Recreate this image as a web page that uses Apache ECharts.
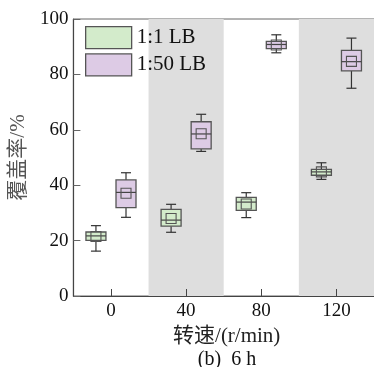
<!DOCTYPE html>
<html>
<head>
<meta charset="utf-8">
<script src="https://cdn.jsdelivr.net/npm/echarts@6/dist/echarts.min.js"></script>
<style>html,body{margin:0;padding:0;background:#fff;}#c{width:374px;height:367px;}</style>
</head>
<body>
<div id="c"></div>
<script>
const categories = ['0', '40', '80', '120'];
const yTicks = [0, 20, 40, 60, 80, 100];
const seriesNames = ['1:1 LB', '1:50 LB'];
// each row: [min, Q1, median, Q3, max, mean]
const lb1 = [
  [16.2, 20.1, 21.7, 23.1, 25.4, 21.5],
  [23.0, 25.2, 27.4, 31.3, 33.1, 28.0],
  [28.3, 30.9, 33.9, 35.6, 37.3, 33.2],
  [42.1, 43.6, 44.8, 45.7, 48.1, 44.8]
];
const lb50 = [
  [28.4, 31.9, 37.4, 41.9, 44.5, 37.1],
  [52.2, 53.1, 58.5, 62.9, 65.6, 58.6],
  [87.8, 89.3, 90.8, 91.9, 94.3, 90.6],
  [75.0, 81.3, 84.6, 88.7, 93.1, 84.7]
];
const caption = '(b)  6 h';
const xName = '转速/(r/min)';
const yName = '覆盖率/%';

const greenFill = '#d3ebcb';
const purpleFill = '#ddcbe5';
const edge = '#555555';
const serif = '"Liberation Serif", "Times New Roman", "Noto Sans CJK SC", serif';

function boxRenderer(sign, fill) {
  return function (params, api) {
    const idx = api.value(0);
    const band = api.size([1, 0])[0];
    const cx = api.coord([idx, 0])[0] + sign * band * 0.2;
    const y = v => api.coord([idx, v])[1];
    const yMin = y(api.value(1)), yQ1 = y(api.value(2)), yMed = y(api.value(3)),
          yQ3 = y(api.value(4)), yMax = y(api.value(5)), yMean = y(api.value(6));
    const hw = 10, cw = 5, sq = 5;
    const ls = { stroke: '#333', lineWidth: 1.2 };
    return {
      type: 'group',
      children: [
        { type: 'line', shape: { x1: cx, y1: yMax, x2: cx, y2: yQ3 }, style: ls },
        { type: 'line', shape: { x1: cx, y1: yQ1, x2: cx, y2: yMin }, style: ls },
        { type: 'line', shape: { x1: cx - cw, y1: yMax, x2: cx + cw, y2: yMax }, style: ls },
        { type: 'line', shape: { x1: cx - cw, y1: yMin, x2: cx + cw, y2: yMin }, style: ls },
        { type: 'rect', shape: { x: cx - hw, y: yQ3, width: 2 * hw, height: yQ1 - yQ3 },
          style: { fill: fill, stroke: edge, lineWidth: 1.3 } },
        { type: 'line', shape: { x1: cx - hw, y1: yMed, x2: cx + hw, y2: yMed }, style: { stroke: '#444', lineWidth: 1.2 } },
        { type: 'rect', shape: { x: cx - sq, y: yMean - sq, width: 2 * sq, height: 2 * sq },
          style: { fill: 'none', stroke: '#555', lineWidth: 1.1 } }
      ]
    };
  };
}

const toData = arr => arr.map((r, i) => [i].concat(r));

const chart = echarts.init(document.getElementById('c'), null, { renderer: 'canvas' });
chart.setOption({
  animation: false,
  backgroundColor: '#fff',
  grid: { left: 71, top: 19, width: 308, height: 277, show: true, borderColor: '#666', borderWidth: 1, backgroundColor: 'transparent' },
  legend: {
    left: 85, top: 26, padding: 0, orient: 'vertical', itemWidth: 46, itemHeight: 22, itemGap: 4,
    textStyle: { fontFamily: serif, fontSize: 21, color: '#111' },
    data: [
      { name: seriesNames[0], icon: 'rect', itemStyle: { color: greenFill, borderColor: edge, borderWidth: 1.3 } },
      { name: seriesNames[1], icon: 'rect', itemStyle: { color: purpleFill, borderColor: edge, borderWidth: 1.3 } }
    ]
  },
  xAxis: {
    type: 'category', data: categories, boundaryGap: true,
    name: xName, nameLocation: 'middle', nameGap: 25,
    nameTextStyle: { fontFamily: serif, fontSize: 21, color: '#222', padding: [0, 0, 0, 6] },
    axisLine: { lineStyle: { color: '#444', width: 1.2 } },
    axisTick: { show: true, inside: true, alignWithLabel: true, length: 7, lineStyle: { color: '#444' } },
    axisLabel: { fontFamily: serif, fontSize: 19, color: '#111', margin: 6 },
    splitLine: { show: false },
    splitArea: { show: true, interval: 0, areaStyle: { color: ['rgba(255,255,255,0)', '#dedede'] } }
  },
  yAxis: {
    type: 'value', min: yTicks[0], max: yTicks[yTicks.length - 1], interval: 20,
    name: yName, nameLocation: 'middle', nameGap: 38, nameRotate: 90,
    nameTextStyle: { fontFamily: serif, fontSize: 21, color: '#555' },
    axisLine: { show: true, lineStyle: { color: '#444', width: 1.2 } },
    axisTick: { show: true, inside: true, length: 7, lineStyle: { color: '#666' } },
    axisLabel: { fontFamily: serif, fontSize: 19, color: '#111', margin: 5 },
    splitLine: { show: false }
  },
  graphic: [
    { type: 'text', x: 227, y: 360,
      style: { text: caption, font: '20px ' + serif, fill: '#111', textAlign: 'center', textVerticalAlign: 'middle' } }
  ],
  series: [
    { name: seriesNames[0], type: 'custom', renderItem: boxRenderer(-1, greenFill),
      itemStyle: { color: greenFill, borderColor: edge },
      encode: { x: 0, y: [1, 2, 3, 4, 5] }, data: toData(lb1), z: 3 },
    { name: seriesNames[1], type: 'custom', renderItem: boxRenderer(1, purpleFill),
      itemStyle: { color: purpleFill, borderColor: edge },
      encode: { x: 0, y: [1, 2, 3, 4, 5] }, data: toData(lb50), z: 3 }
  ]
});
</script>
</body>
</html>
